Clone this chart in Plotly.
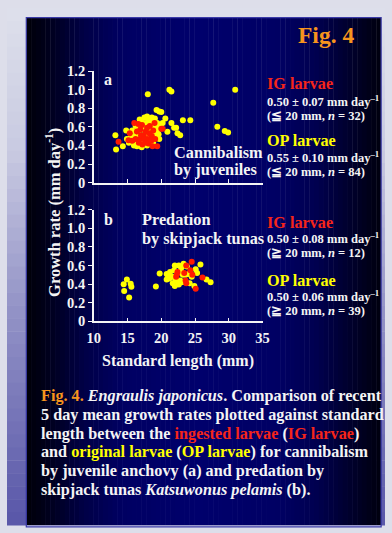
import plotly.graph_objects as go

W, H = 392, 533

# ---------------- data ----------------
# Panel a: cannibalism by juveniles
a_ig_sl = [13.67, 15.14, 15.33, 16.0, 16.2, 16.67, 16.9, 17.14, 17.4, 17.7, 18.0, 18.1, 18.3, 18.6, 18.7, 19.0,
           19.1, 19.4, 20.0, 20.2, 16.4, 17.6, 16.9, 15.7, 17.2, 18.2, 18.8, 16.6, 17.9, 17.0, 18.5, 17.5]
a_ig_gr = [0.44, 0.456, 0.53, 0.64, 0.47, 0.43, 0.57, 0.62, 0.50, 0.55, 0.47, 0.42, 0.61, 0.50, 0.39, 0.64,
           0.47, 0.39, 0.58, 0.58, 0.55, 0.43, 0.47, 0.45, 0.41, 0.53, 0.56, 0.63, 0.59, 0.51, 0.45, 0.47]
a_op_sl = [18.0, 21.2, 21.5, 30.95, 27.7, 28.3, 29.4, 29.9, 23.2, 24.3, 20.6, 21.5, 21.9, 22.2, 22.4, 22.8,
           20.9, 19.3, 19.7, 20.0, 13.2, 13.3, 14.3, 14.8, 16.4, 19.7, 15.5, 16.2, 16.7, 17.1, 17.5, 17.9,
           18.1, 18.3, 18.6, 18.8, 19.05, 19.3, 19.5, 19.2, 18.8, 18.1, 17.6, 17.4, 16.9, 16.4, 15.95, 15.7,
           16.67, 17.7, 18.3, 18.6, 19.05, 19.4, 17.6, 17.0, 16.4, 15.95, 15.2, 14.9, 18.1, 18.7, 19.0, 17.9,
           17.1, 19.6, 19.9, 20.2, 17.4, 16.8]
a_op_gr = [0.95, 1.0, 0.98, 1.0, 0.86, 0.60, 0.556, 0.54, 0.67, 0.67, 0.69, 0.64, 0.59, 0.59, 0.53, 0.51,
           0.546, 0.78, 0.765, 0.76, 0.51, 0.355, 0.39, 0.56, 0.39, 0.47, 0.49, 0.61, 0.50, 0.57, 0.70, 0.71,
           0.68, 0.66, 0.70, 0.66, 0.69, 0.61, 0.57, 0.54, 0.43, 0.49, 0.52, 0.45, 0.42, 0.45, 0.50, 0.56,
           0.56, 0.61, 0.57, 0.61, 0.59, 0.64, 0.64, 0.66, 0.61, 0.40, 0.43, 0.47, 0.56, 0.53, 0.50, 0.40,
           0.38, 0.52, 0.61, 0.64, 0.63, 0.68]

# Panel b: predation by skipjack tunas
b_ig_sl = [24.5, 23.7, 22.4, 22.2, 23.4, 24.6, 24.3, 26.1, 23.6, 23.7, 25.1, 22.3]
b_ig_gr = [0.64, 0.60, 0.53, 0.48, 0.52, 0.50, 0.55, 0.47, 0.44, 0.41, 0.35, 0.50]
b_op_sl = [14.9, 14.43, 15.47, 15.57, 14.5, 15.24, 19.2, 19.76, 20.8, 21.3, 20.8, 22.0, 21.7, 22.1, 22.0,
           22.6, 22.4, 22.9, 23.1, 23.3, 23.6, 22.8, 24.2, 24.9, 25.1, 25.3, 25.8, 26.7, 27.3, 23.6, 21.7,
           22.4, 23.2, 21.0, 23.8, 24.05, 24.5, 23.0, 21.9, 22.6, 21.2, 23.3]
b_op_gr = [0.449, 0.40, 0.404, 0.373, 0.327, 0.256, 0.374, 0.514, 0.51, 0.53, 0.45, 0.60, 0.48, 0.45, 0.38,
           0.395, 0.52, 0.55, 0.59, 0.51, 0.50, 0.44, 0.41, 0.38, 0.56, 0.52, 0.61, 0.45, 0.42, 0.42, 0.41,
           0.43, 0.50, 0.49, 0.59, 0.51, 0.48, 0.42, 0.55, 0.60, 0.46, 0.62]

x_ticks = [10, 15, 20, 25, 30, 35]
x_ticklabels = ["10", "15", "20", "25", "30", "35"]
y_ticks = [0, 0.2, 0.4, 0.6, 0.8, 1.0, 1.2]
y_ticklabels = ["0", "0.2", "0.4", "0.6", "0.8", "1.0", "1.2"]

stats_a = ["0.50 ± 0.07 mm day<sup>–1</sup>", "(≦ 20 mm, <i>n</i> = 32)",
           "0.55 ± 0.10 mm day<sup>–1</sup>", "(≦ 20 mm, <i>n</i> = 84)"]
stats_b = ["0.50 ± 0.08 mm day<sup>–1</sup>", "(≧ 20 mm, <i>n</i> = 12)",
           "0.50 ± 0.06 mm day<sup>–1</sup>", "(≧ 20 mm, <i>n</i> = 39)"]

# ---------------- styling ----------------
FONT = "Liberation Serif"
WHITE = "#F4F4F4"
RED = "#FF1A00"
YEL = "#FFFF00"
ORANGE = "#F7941D"
IG_COL = "#F5251A"


def px(x):
    return x / W


def py(y):
    return 1 - y / H


def lerp_col(stops, t):
    for i in range(len(stops) - 1):
        t0, c0 = stops[i]
        t1, c1 = stops[i + 1]
        if t0 <= t <= t1:
            f = (t - t0) / (t1 - t0) if t1 > t0 else 0
            return tuple(int(round(c0[k] + (c1[k] - c0[k]) * f)) for k in range(3))
    return stops[-1][1]


shapes = []
# outer lavender vertical gradient
lav = [(0, (222, 224, 235)), (150, (200, 201, 225)), (300, (150, 150, 200)), (533, (88, 86, 168))]
n = 40
for i in range(n):
    y0 = H * i / n
    y1 = H * (i + 1) / n + 0.5
    c = lerp_col(lav, (y0 + y1) / 2)
    shapes.append(dict(type="rect", xref="paper", yref="paper", x0=0, x1=1, y0=py(y1), y1=py(y0),
                       fillcolor="rgb(%d,%d,%d)" % c, line=dict(width=0), layer="below"))
# panel horizontal gradient
PX0, PX1, PY0 = 20, 388, 10
pan = [(20, (0, 0, 8)), (45, (0, 0, 30)), (80, (0, 0, 70)), (120, (0, 0, 98)), (200, (0, 0, 108)),
       (280, (0, 0, 100)), (320, (0, 0, 80)), (355, (0, 0, 45)), (388, (0, 0, 14))]
m = 74
for i in range(m):
    x0 = PX0 + (PX1 - PX0) * i / m
    x1 = PX0 + (PX1 - PX0) * (i + 1) / m + 0.4
    c = lerp_col(pan, (x0 + x1) / 2)
    shapes.append(dict(type="rect", xref="paper", yref="paper", x0=px(x0), x1=px(min(x1, PX1)), y0=0, y1=py(PY0),
                       fillcolor="rgb(%d,%d,%d)" % c, line=dict(width=0), layer="below"))
shapes.append(dict(type="rect", xref="paper", yref="paper", x0=px(PX0), x1=px(PX1), y0=py(H + 2), y1=py(PY0),
                   fillcolor="rgba(0,0,0,0)", line=dict(width=1.2, color="#3A3AA8"), layer="below"))

fig = go.Figure()
mk = dict(size=6, line=dict(width=0))
fig.add_trace(go.Scatter(x=a_op_sl, y=a_op_gr, mode="markers", marker=dict(color=YEL, **mk),
                         xaxis="x", yaxis="y", cliponaxis=False))
fig.add_trace(go.Scatter(x=a_ig_sl, y=a_ig_gr, mode="markers", marker=dict(color=RED, **mk),
                         xaxis="x", yaxis="y", cliponaxis=False))
fig.add_trace(go.Scatter(x=b_op_sl, y=b_op_gr, mode="markers", marker=dict(color=YEL, **mk),
                         xaxis="x2", yaxis="y2", cliponaxis=False))
fig.add_trace(go.Scatter(x=b_ig_sl, y=b_ig_gr, mode="markers", marker=dict(color=RED, **mk),
                         xaxis="x2", yaxis="y2", cliponaxis=False))

tickfont = dict(family=FONT, size=14.5, color=WHITE, weight="bold")
xdom = [px(90), px(265)]
common_x = dict(range=[10, 35], domain=xdom, showline=True, linecolor=WHITE, linewidth=1.5,
                ticks="inside", ticklen=4, tickwidth=1.3, tickcolor=WHITE, tickvals=x_ticks,
                ticktext=x_ticklabels, showgrid=False, zeroline=False, tickfont=tickfont, fixedrange=True,
                ticklabelstandoff=3)
common_y = dict(range=[0, 1.2], showline=True, linecolor=WHITE, linewidth=1.5, ticks="outside", ticklen=4,
                tickwidth=1.3, tickcolor=WHITE, tickvals=y_ticks, ticktext=y_ticklabels, showgrid=False,
                zeroline=False, tickfont=tickfont, fixedrange=True)

fig.update_layout(
    width=W, height=H, margin=dict(l=0, r=0, t=0, b=0),
    paper_bgcolor="#DDDEEA", plot_bgcolor="rgba(0,0,0,0)", showlegend=False,
    shapes=shapes,
    xaxis=dict(anchor="y", showticklabels=False, **common_x),
    yaxis=dict(anchor="x", domain=[py(180), py(65)], **common_y),
    xaxis2=dict(anchor="y2", showticklabels=True, **common_x),
    yaxis2=dict(anchor="x2", domain=[py(323), py(208)], **common_y),
)

ann = []


def text(x, y, s, size, color=WHITE, xanchor="left", angle=0):
    ann.append(dict(x=px(x), y=py(y), xref="paper", yref="paper", text=s, showarrow=False,
                    xanchor=xanchor, yanchor="middle", textangle=angle, borderpad=0,
                    font=dict(family=FONT, size=size, color=color, weight="bold")))


text(331, 28, "Fig. 4", 23.5, ORANGE, "center")
text(48, 211, "Growth rate (mm day<sup>-1</sup>)", 16.5, WHITE, "center", -90)
text(177, 364, "Standard length (mm)", 16, WHITE, "center")
text(100, 74, "a", 16)
text(100, 218, "b", 16)
text(172, 149, "Cannibalism", 16.3)
text(172, 167, "by juveniles", 16.3)
text(139, 218, "Predation", 16.3)
text(139, 238, "by skipjack tunas", 16.3)

# right annotations panel a
text(269, 78, "IG larvae", 16.2, IG_COL)
text(269, 95.5, stats_a[0], 12.5)
text(269, 111, stats_a[1], 12.5)
text(269, 137.5, "OP larvae", 16.2, YEL)
text(269, 154, stats_a[2], 12.5)
text(269, 169, stats_a[3], 12.5)
# panel b
text(269, 222, "IG larvae", 16.2, IG_COL)
text(269, 237.5, stats_b[0], 12.5)
text(269, 252.5, stats_b[1], 12.5)
text(269, 281, "OP larvae", 16.2, YEL)
text(269, 296.5, stats_b[2], 12.5)
text(269, 312, stats_b[3], 12.5)

# caption
cap = [
    '<span style="color:%s">Fig. 4.</span> <i>Engraulis japonicus</i>. Comparison of recent' % ORANGE,
    "5 day mean growth rates plotted against standard",
    'length between the <span style="color:%s">ingested larvae</span> (<span style="color:%s">IG larvae</span>)' % (IG_COL, IG_COL),
    'and <span style="color:%s">original larvae</span> (<span style="color:%s">OP larvae</span>) for cannibalism' % (YEL, YEL),
    "by juvenile anchovy (a) and predation by",
    "skipjack tunas <i>Katsuwonus pelamis</i> (b).",
]
for i, line in enumerate(cap):
    text(34, 400 + i * 19.4, line, 16.2)

fig.update_layout(annotations=ann)
fig.write_html(
    "out.html",
    config={"displayModeBar": False},
    post_script="document.body.style.margin='0';document.documentElement.style.overflow='hidden';"
                "document.body.style.overflow='hidden';",
)
